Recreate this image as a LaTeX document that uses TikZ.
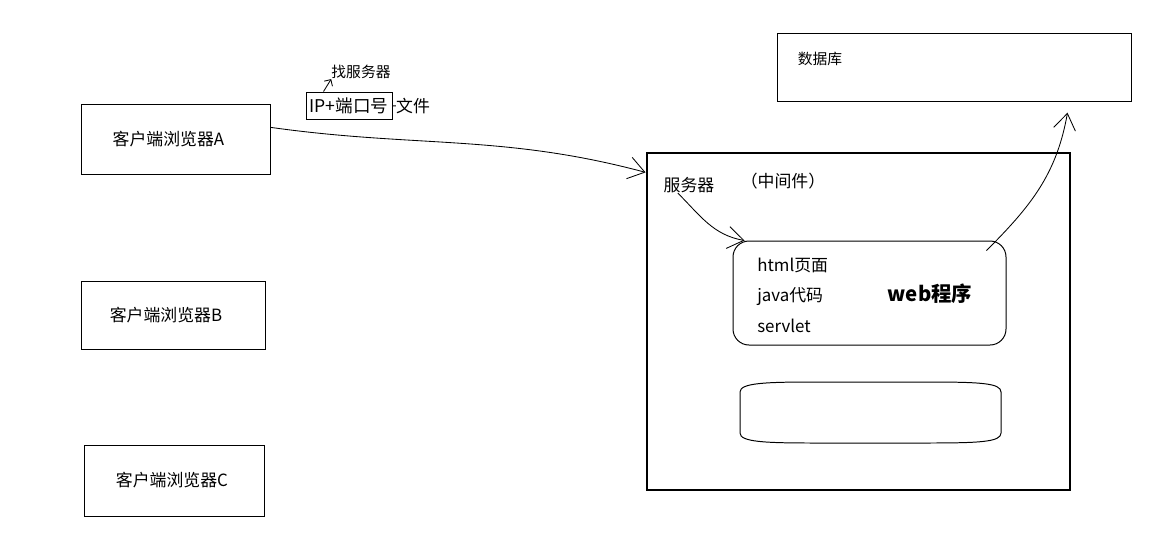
\documentclass[tikz,border=0pt]{standalone}
\usepackage{fontspec}
\setmainfont{Noto Sans CJK SC}
\usetikzlibrary{arrows.meta}

\begin{document}
\begin{tikzpicture}[x=0.025cm, y=-0.025cm,
	box/.style={draw, line width=0.7pt, inner sep=0pt},
	txt/.style={font=\fontsize{12}{14}\selectfont, inner sep=0pt},
	small/.style={font=\fontsize{10.5}{12}\selectfont, inner sep=0pt},
	hand/.style={line width=0.6pt, -{Straight Barb[length=4mm,width=5.5mm]}}]
\useasboundingbox (0,0) rectangle (1161,548);

% browsers on the left
\foreach \name/\x/\y/\w/\h/\d in {A/175.5/139/189/70/-7, B/173/315/184/68/-7, C/174/480.5/180/71/-2}
	\node [box, minimum width=\w*0.025cm, minimum height=\h*0.025cm,
		label={[txt, xshift=\d*0.025cm]center:客户端浏览器\name}] (browser\name) at (\x,\y) {};

\node [box, txt, font=\fontsize{12.5}{14}\selectfont, minimum width=86*0.025cm, minimum height=27*0.025cm] (ipport) at (349,105.5) {IP+端口号};
\node [txt] (file) at (413,106) {文件};
\node [small] (findsrv) at (361,72) {找服务器};
\draw [line width=0.6pt] (ipport) -- (file);
\draw [line width=0.6pt, -{Straight Barb[length=1.2mm,width=2.4mm]}] ([xshift=0.45cm]ipport.north west) -- (findsrv.south west);

% database
\node [box, minimum width=354*0.025cm, minimum height=68*0.025cm] (database) at (954,67) {};
\node [small] (dbname) at (820,59) {数据库};

% server
\node [draw, line width=2.1pt, minimum width=423*0.025cm, minimum height=337*0.025cm] (server) at (858.5,321.5) {};
\node [txt] (srvname) at (689,185) {服务器};
\node [txt] (middleware) at (783,181) {（中间件）};

\node [box, rounded corners=0.4cm, minimum width=273*0.025cm, minimum height=104*0.025cm] (webapp) at (869.5,293) {};
\foreach \y/\t/\n in {265/html页面/html, 297/java代码/java, 326/servlet/servlet}
	\node [txt, anchor=west] (\n) at (757,\y) {\t};
\node [txt, font=\bfseries\fontsize{14.5}{16}\selectfont] (webname) at (930,294) {web程序};

\draw [line width=0.7pt] (740,392) .. controls (740,383) and (765,382) .. (815,382) -- (925,382)
	.. controls (980,382) and (1001,383) .. (1001,392) -- (1001,433)
	.. controls (1001,442) and (980,443) .. (925,443) -- (815,443)
	.. controls (765,443) and (740,442) .. (740,433) -- cycle;

% requests
\draw [hand] (browserA.7) to[out=-8, in=165] (server.145);
\draw [hand] ([xshift=-0.28cm]srvname.south) to[out=-45, in=170] ([xshift=0.3cm]webapp.north west);
\draw [hand] ([xshift=-0.5cm,yshift=-0.25cm]webapp.north east) to[out=45, in=-100] ([xshift=-1.6cm,yshift=-0.28cm]database.south east);

\end{tikzpicture}
\end{document}
